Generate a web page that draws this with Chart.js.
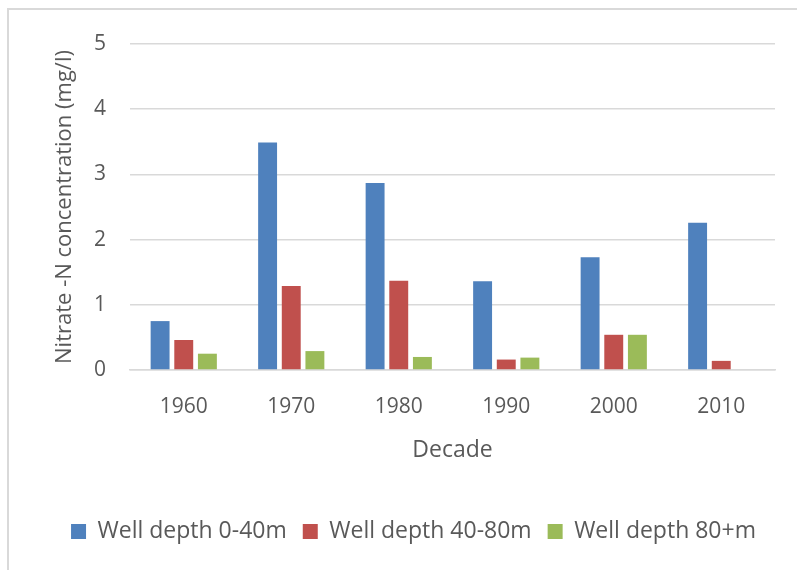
<!DOCTYPE html>
<html>
<head>
<meta charset="utf-8">
<script src="https://cdn.jsdelivr.net/npm/chart.js@4.4.1/dist/chart.umd.min.js"></script>
<style>
  html, body { margin: 0; padding: 0; background: #fff; }
  #moldura { position: absolute; left: 0; top: 0; width: 797px; height: 570px; }
  #borda { position: absolute; left: 7px; top: 8px; width: 900px; height: 700px; border: 2px solid #d9d9d9; box-sizing: border-box; }
</style>
</head>
<body>
<div id="moldura">
  <div id="borda"></div>
  <canvas id="graficoCanvas" width="797" height="570" style="position:absolute;left:0;top:0;"></canvas>
</div>
<script>
// Dados
const decadas = ['1960', '1970', '1980', '1990', '2000', '2010'];
const poco0a40 = [0.75, 3.49, 2.87, 1.36, 1.73, 2.26];
const poco40a80 = [0.46, 1.29, 1.37, 0.16, 0.54, 0.14];
const poco80mais = [0.25, 0.29, 0.20, 0.19, 0.54, 0];
const ticksY = [0, 1, 2, 3, 4, 5];

const corTexto = '#595959';
const fonte = '"Open Sans", sans-serif';

const ctx = document.getElementById('graficoCanvas').getContext('2d');

new Chart(ctx, {
    type: 'bar',
    data: {
        labels: decadas,
        datasets: [
            { label: 'Well depth 0-40m', data: poco0a40, backgroundColor: '#4F81BD' },
            { label: 'Well depth 40-80m', data: poco40a80, backgroundColor: '#C0504D' },
            { label: 'Well depth 80+m', data: poco80mais, backgroundColor: '#9BBB59' }
        ]
    },
    options: {
        responsive: false,
        animation: false,
        devicePixelRatio: 1,
        categoryPercentage: 0.66,
        barPercentage: 0.8,
        layout: { padding: { left: 52, right: 22, top: 44, bottom: 17 } },
        scales: {
            y: {
                min: 0, max: 5,
                afterFit: (eixo) => { eixo.width = 78; },
                afterBuildTicks: (eixo) => { eixo.ticks = ticksY.map(v => ({ value: v })); },
                grid: { color: '#d9d9d9', lineWidth: 1.5, drawTicks: false },
                border: { display: false },
                ticks: { color: corTexto, padding: 24, font: { family: fonte, size: 21 } },
                title: {
                    display: true,
                    text: 'Nitrate -N concentration (mg/l)',
                    color: corTexto,
                    font: { family: fonte, size: 22 },
                    padding: { top: 0, bottom: 0 }
                }
            },
            x: {
                afterFit: (eixo) => { eixo.height = 134; },
                grid: { display: false, drawTicks: false },
                border: { display: true, color: '#d9d9d9', width: 1.5 },
                ticks: { color: corTexto, padding: 24, font: { family: fonte, size: 21 } },
                title: {
                    display: true,
                    text: 'Decade',
                    color: corTexto,
                    font: { family: fonte, size: 23 },
                    padding: { top: 0, bottom: 40 }
                }
            }
        },
        plugins: {
            legend: {
                position: 'bottom',
                labels: {
                    color: corTexto,
                    boxWidth: 15,
                    boxHeight: 15,
                    padding: 16,
                    font: { family: fonte, size: 23 }
                }
            },
            tooltip: { enabled: false }
        }
    }
});
</script>
</body>
</html>
